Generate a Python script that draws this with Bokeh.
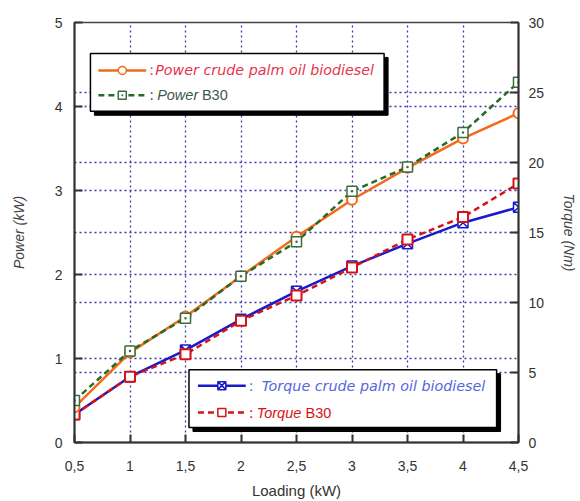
from bokeh.plotting import figure
from bokeh.models import (Range1d, LinearAxis, Grid, FixedTicker, Label, ColumnDataSource)
from bokeh.embed import file_html
from bokeh.resources import INLINE

# ---- data ----
loading = [0.5, 1.0, 1.5, 2.0, 2.5, 3.0, 3.5, 4.0, 4.5]
power_cpo = [0.42, 1.07, 1.50, 1.98, 2.45, 2.89, 3.27, 3.62, 3.92]
power_b30 = [0.50, 1.09, 1.48, 1.98, 2.39, 2.99, 3.28, 3.69, 4.29]
torque_cpo = [2.0, 4.7, 6.6, 8.8, 10.8, 12.6, 14.2, 15.7, 16.8]
torque_b30 = [2.0, 4.7, 6.3, 8.7, 10.5, 12.5, 14.5, 16.1, 18.5]
x_ticks = [0.5, 1.0, 1.5, 2.0, 2.5, 3.0, 3.5, 4.0, 4.5]
x_tick_labels = ["0,5", "1", "1,5", "2", "2,5", "3", "3,5", "4", "4,5"]
power_ticks = [0, 1, 2, 3, 4, 5]
torque_ticks = [0, 5, 10, 15, 20, 25, 30]

ORANGE = "#f26a1b"
GREEN = "#256b25"
BLUE = "#1a1acc"
RED = "#d41414"
GRID = "#3a3ab0"
TICKFONT = "Liberation Sans"

p = figure(width=580, height=501, output_backend="svg", toolbar_location=None,
           x_range=Range1d(0.5, 4.5), y_range=Range1d(0, 5),
           min_border_left=74, min_border_right=60, min_border_top=22, min_border_bottom=58)
p.extra_y_ranges = {"torque": Range1d(0, 30)}
p.background_fill_color = "white"
p.border_fill_color = "white"
p.outline_line_color = "#444444"
p.outline_line_width = 1.5

# axes
p.xaxis.ticker = FixedTicker(ticks=x_ticks)
p.xaxis.major_label_overrides = {t: l for t, l in zip(x_ticks, x_tick_labels)}
p.yaxis.ticker = FixedTicker(ticks=power_ticks)
p.xaxis.axis_label = "Loading (kW)"
p.yaxis.axis_label = "Power (kW)"

rax = LinearAxis(y_range_name="torque", ticker=FixedTicker(ticks=torque_ticks),
                 axis_label="Torque (Nm)")
p.add_layout(rax, "right")

for ax in [p.xaxis[0], p.yaxis[0], rax]:
    ax.axis_line_color = "#333333"
    ax.axis_line_width = 2
    ax.major_tick_in = 8
    ax.major_tick_out = 0
    ax.major_tick_line_color = "#333333"
    ax.major_tick_line_width = 2
    ax.minor_tick_line_color = None
    ax.major_label_text_font = TICKFONT
    ax.major_label_text_font_size = "14px"
    ax.major_label_text_color = "#333333"
    ax.axis_label_text_font = TICKFONT
    ax.axis_label_text_font_size = "14px"
    ax.axis_label_text_font_style = "normal"
    ax.axis_label_text_color = "#444444"

p.xaxis.major_label_standoff = 18
p.xaxis.axis_label_standoff = 8
p.xaxis.axis_label_text_font_size = "15px"
p.xaxis.axis_label_text_color = "#333333"
p.yaxis.major_label_standoff = 12
p.yaxis.axis_label_standoff = 25
p.yaxis.axis_label_text_font_style = "italic"
rax.major_label_standoff = 10
rax.axis_label_standoff = 14

# grids
p.xgrid.grid_line_color = GRID
p.xgrid.grid_line_dash = "2 3"
p.xgrid.grid_line_width = 1.3
p.ygrid.grid_line_color = GRID
p.ygrid.grid_line_dash = "2 3"
p.ygrid.grid_line_width = 1.3
g2 = Grid(dimension=1, ticker=rax.ticker, y_range_name="torque",
          grid_line_color=GRID, grid_line_dash="2 3", grid_line_width=1.3)
p.add_layout(g2)

src = ColumnDataSource(dict(x=loading, pc=power_cpo, pb=power_b30, tc=torque_cpo, tb=torque_b30))

# torque series
p.line("x", "tc", source=src, y_range_name="torque", color=BLUE, line_width=2.5)
p.line("x", "tb", source=src, y_range_name="torque", color=RED, line_width=2.5, line_dash="6 4")
# power series
p.line("x", "pc", source=src, color=ORANGE, line_width=2.5)
p.line("x", "pb", source=src, color=GREEN, line_width=2.5, line_dash="6 4")

p.scatter("x", "tc", source=src, y_range_name="torque", marker="square_x", size=10,
          line_color=BLUE, fill_color="white", line_width=1.5)
p.scatter("x", "tb", source=src, y_range_name="torque", marker="square", size=10,
          line_color=RED, fill_color="white", line_width=2)
p.scatter("x", "pc", source=src, marker="circle", size=10,
          line_color=ORANGE, fill_color="white", line_width=2)
p.scatter("x", "pb", source=src, marker="square_dot", size=10,
          line_color="#3d6b3d", fill_color="white", line_width=1.5)

# ---- custom legends (positioned in pixel layout, converted to data coords) ----
FL, FR, FT, FB = 74.0, 520.0, 22.0, 443.0
def dx(px):
    return 0.5 + (px - FL) / (FR - FL) * 4.0
def dy(py):
    return (FB - py) / (FB - FT) * 5.0

def legend_box(l, t, r, b):
    p.quad(left=[dx(l + 4)], right=[dx(r + 4)], top=[dy(t + 4)], bottom=[dy(b + 4)],
           fill_color="black", line_color="black")
    p.quad(left=[dx(l)], right=[dx(r)], top=[dy(t)], bottom=[dy(b)],
           fill_color="white", line_color="black", line_width=1.5)

def sample(x0, x1, y, color, dash, marker, mcolor, lw=2.5):
    p.line([dx(x0), dx(x1)], [dy(y), dy(y)], color=color, line_width=lw, line_dash=dash)
    p.scatter([dx((x0 + x1) / 2)], [dy(y)], marker=marker, size=8, line_color=mcolor,
              fill_color="white", line_width=1.5)

def txt(x, y, s, color, style="italic", font="DejaVu Sans", size="14.3px"):
    p.add_layout(Label(x=dx(x), y=dy(y), text=s, text_color=color, text_font=font,
                       text_font_style=style, text_font_size=size, text_baseline="middle"))

legend_box(90, 53, 385, 111)
sample(98, 146, 70, ORANGE, "solid", "circle", ORANGE)
txt(149, 70, ":", "#e8344a", "normal")
txt(155, 70, "Power crude palm oil biodiesel", "#e8344a")
sample(98, 146, 95, GREEN, "6 4", "square_dot", "#3d6b3d")
txt(149, 95, ":", "#3d5a3d", "normal")
txt(157, 95, "Power", "#3d5a4a", "italic", TICKFONT, "14.5px")
txt(202, 95, "B30", "#3d5a4a", "normal", TICKFONT, "14.5px")

legend_box(189, 370, 498, 428)
sample(198, 246, 386, BLUE, "solid", "square_x", BLUE)
txt(249, 386, ":", "#5566dd", "normal")
txt(262, 386, "Torque crude palm oil biodiesel", "#5566dd")
sample(198, 246, 413, RED, "6 4", "square", RED)
txt(249, 413, ":", "#cc1111", "normal")
txt(257, 413, "Torque", RED, "italic", TICKFONT, "14.5px")
txt(306, 413, "B30", RED, "normal", TICKFONT, "14.5px")

open("out.html", "w").write(file_html(p, INLINE))
